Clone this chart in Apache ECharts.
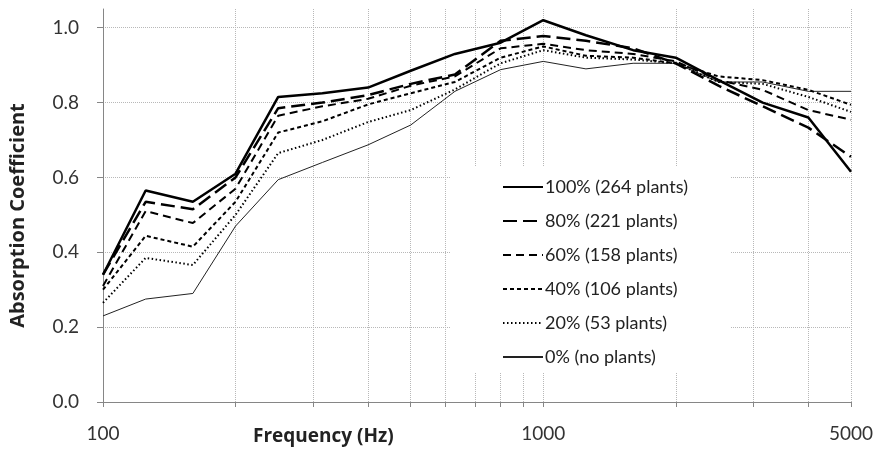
<!DOCTYPE html>
<html>
<head>
<meta charset="utf-8">
<script src="https://cdn.jsdelivr.net/npm/echarts@6/dist/echarts.min.js"></script>
<style>
html,body{margin:0;padding:0;background:#fff;}
#chart{width:878px;height:457px;}
</style>
</head>
<body>
<div id="chart"></div>
<script>
var frequencies = [100, 125, 160, 200, 250, 315, 400, 500, 630, 800, 1000, 1250, 1600, 2000, 2500, 3150, 4000, 5000];
var seriesNames = ['100% (264 plants)', '80% (221 plants)', '60% (158 plants)', '40% (106 plants)', '20% (53 plants)', '0% (no plants)'];
var p100 = [0.34, 0.565, 0.535, 0.61, 0.815, 0.825, 0.84, 0.885, 0.93, 0.96, 1.02, 0.98, 0.94, 0.92, 0.86, 0.80, 0.76, 0.615];
var p80  = [0.34, 0.535, 0.515, 0.60, 0.785, 0.80, 0.82, 0.85, 0.875, 0.965, 0.978, 0.965, 0.945, 0.905, 0.845, 0.79, 0.733, 0.655];
var p60  = [0.31, 0.51, 0.478, 0.57, 0.765, 0.79, 0.81, 0.845, 0.87, 0.945, 0.957, 0.94, 0.93, 0.91, 0.86, 0.834, 0.78, 0.754];
var p40  = [0.30, 0.444, 0.415, 0.535, 0.72, 0.75, 0.795, 0.825, 0.855, 0.92, 0.95, 0.925, 0.92, 0.905, 0.87, 0.86, 0.834, 0.794];
var p20  = [0.265, 0.385, 0.366, 0.50, 0.665, 0.70, 0.748, 0.78, 0.835, 0.905, 0.94, 0.92, 0.915, 0.905, 0.855, 0.85, 0.815, 0.775];
var p0   = [0.23, 0.275, 0.29, 0.47, 0.594, 0.64, 0.687, 0.74, 0.83, 0.888, 0.91, 0.89, 0.905, 0.905, 0.855, 0.855, 0.83, 0.83];
var xTickValues = [100, 200, 300, 400, 500, 600, 700, 800, 900, 1000, 2000, 3000, 4000, 5000];
var xLabelValues = [100, 1000, 5000];
var yTickValues = [0, 0.2, 0.4, 0.6, 0.8, 1.0];

var allValues = [p100, p80, p60, p40, p20, p0];
var styles = [
  {width: 2.5, type: 'solid', color: '#000'},
  {width: 2.5, type: [14, 6], color: '#000'},
  {width: 2, type: [8, 5], color: '#000'},
  {width: 2, type: [4, 3], color: '#000'},
  {width: 2, type: [1.5, 2.5], color: '#000'},
  {width: 1, type: 'solid', color: '#222'}
];

var FONT = 'Lato, "Liberation Sans", sans-serif';
var BOLDFONT = '"Open Sans", Lato, sans-serif';

var series = seriesNames.map(function (name, i) {
  return {
    name: name,
    type: 'line',
    symbol: 'none',
    clip: false,
    data: frequencies.map(function (f, j) { return [f, allValues[i][j]]; }),
    lineStyle: styles[i],
    itemStyle: {color: styles[i].color},
    emphasis: {disabled: true},
    z: 10 - i
  };
});

var chart = echarts.init(document.getElementById('chart'), null, {renderer: 'canvas'});
chart.setOption({
  animation: false,
  backgroundColor: '#fff',
  grid: {left: 98, right: 27, top: 9, bottom: 55, containLabel: false},
  xAxis: {
    type: 'log',
    logBase: 10,
    min: 100,
    max: 5000,
    axisLine: {show: true, lineStyle: {color: '#868686', width: 1}},
    axisTick: {show: true, length: 5, customValues: xTickValues, lineStyle: {color: '#868686'}},
    axisLabel: {
      customValues: xLabelValues,
      margin: 22,
      fontSize: 19,
      color: '#333',
      fontFamily: FONT,
      formatter: function (v) { return String(Math.round(v)); }
    },
    splitLine: {show: true, lineStyle: {color: '#b8b8b8', type: [1, 1], width: 1}}
  },
  yAxis: {
    type: 'value',
    min: 0,
    max: 1.05,
    interval: 0.2,
    name: 'Absorption Coefficient',
    nameLocation: 'middle',
    nameGap: 75,
    nameTextStyle: {fontSize: 20, fontWeight: 'bold', color: '#222', fontFamily: BOLDFONT, padding: [0, 20, 0, 0]},
    axisLine: {show: true, lineStyle: {color: '#868686', width: 1}},
    axisTick: {show: true, length: 6, customValues: yTickValues, lineStyle: {color: '#868686'}},
    axisLabel: {
      customValues: yTickValues,
      margin: 24,
      fontSize: 19,
      color: '#333',
      fontFamily: FONT,
      formatter: function (v) { return v.toFixed(1); }
    },
    splitLine: {show: true, lineStyle: {color: '#b8b8b8', type: [1, 1], width: 1}}
  },
  legend: {
    show: true,
    orient: 'vertical',
    left: 450,
    top: 167,
    width: 288,
    padding: [11, 43, 7, 52],
    backgroundColor: '#fff',
    itemWidth: 40,
    itemHeight: 14,
    itemGap: 16,
    itemStyle: {opacity: 0},
    data: seriesNames,
    textStyle: {fontSize: 18, color: '#222', fontFamily: FONT, padding: [0, 0, 0, -3]},
    selectedMode: false
  },
  graphic: [{
    type: 'text',
    left: 253,
    top: 427,
    style: {text: 'Frequency (Hz)', fill: '#222', font: 'bold 19px ' + BOLDFONT}
  }],
  series: series
});
</script>
</body>
</html>
